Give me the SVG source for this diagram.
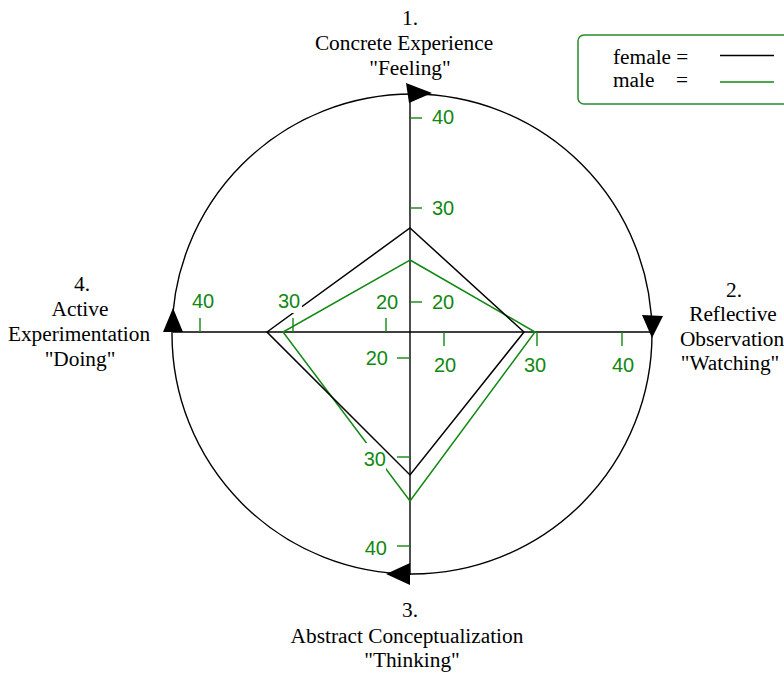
<svg xmlns="http://www.w3.org/2000/svg" width="784" height="674" viewBox="0 0 784 674">
  <style>
    .cap { font-family: "Liberation Serif", "Times New Roman", serif; font-size: 21.33px; fill: #000; text-anchor: middle; }
    .leg { font-family: "Liberation Serif", "Times New Roman", serif; font-size: 21.33px; fill: #000; }
    .num { font-family: "Liberation Sans", Arial, sans-serif; font-size: 20px; fill: #118811; }
    .axis { stroke: #000; stroke-width: 1.4; fill: none; }
    .tick { stroke: #118811; stroke-width: 1.4; fill: none; }
    .fem { stroke: #000; stroke-width: 1.5; fill: none; stroke-linejoin: miter; }
    .mal { stroke: #118811; stroke-width: 1.5; fill: none; stroke-linejoin: miter; }
    .arrow { fill: #000; stroke: none; }
    .mask { fill: #fff; stroke: none; }
  </style>

  <!-- cycle circle and its direction arrows -->
  <g id="cycle">
    <circle class="axis" cx="412" cy="334" r="240"/>
    <polygon class="arrow" points="406,83 409,103 432,93"/>
    <polygon class="arrow" points="642,315 663,316 652,338"/>
    <polygon class="arrow" points="410,563 410,585 386,574"/>
    <polygon class="arrow" points="173,308 163,332 183,332"/>
  </g>

  <!-- axes with scale ticks -->
  <g id="axes">
    <line class="axis" x1="410" y1="94" x2="410" y2="575"/>
    <line class="axis" x1="173" y1="332" x2="652" y2="332"/>
    <!-- upper axis -->
    <line class="tick" x1="410" y1="118" x2="422" y2="118"/>
    <line class="tick" x1="410" y1="208" x2="422" y2="208"/>
    <line class="tick" x1="410" y1="302" x2="422" y2="302"/>
    <!-- right axis -->
    <line class="tick" x1="444" y1="332" x2="444" y2="346"/>
    <line class="tick" x1="537" y1="332" x2="537" y2="346"/>
    <line class="tick" x1="622" y1="332" x2="622" y2="346"/>
    <!-- lower axis -->
    <line class="tick" x1="397" y1="358" x2="410" y2="358"/>
    <line class="tick" x1="397" y1="457" x2="410" y2="457"/>
    <line class="tick" x1="397" y1="546" x2="410" y2="546"/>
    <!-- left axis -->
    <line class="tick" x1="386" y1="318" x2="386" y2="332"/>
    <line class="tick" x1="293" y1="318" x2="293" y2="332"/>
    <line class="tick" x1="200" y1="318" x2="200" y2="332"/>
  </g>

  <!-- score profiles -->
  <g id="profiles">
    <polygon id="male" class="mal" points="410,260 535,332 410,501 283,332"/>
    <rect class="mask" x="361" y="443" width="25" height="27"/>
    <polygon id="female" class="fem" points="410,228 524,332 410,475 267,332"/>
    <rect class="mask" x="276" y="292" width="26" height="21"/>
  </g>

  <!-- scale numbers -->
  <g id="scale-labels">
    <text class="num" x="432" y="124">40</text>
    <text class="num" x="432" y="215">30</text>
    <text class="num" x="432" y="309">20</text>

    <text class="num" x="445" y="372" text-anchor="middle">20</text>
    <text class="num" x="535" y="372" text-anchor="middle">30</text>
    <text class="num" x="623" y="372" text-anchor="middle">40</text>

    <text class="num" x="388" y="365" text-anchor="end">20</text>
    <text class="num" x="386" y="466" text-anchor="end">30</text>
    <text class="num" x="387" y="555" text-anchor="end">40</text>

    <text class="num" x="387" y="309" text-anchor="middle">20</text>
    <text class="num" x="289" y="308" text-anchor="middle">30</text>
    <text class="num" x="203" y="308" text-anchor="middle">40</text>
  </g>

  <!-- stage captions -->
  <g id="stage-1">
    <text class="cap" x="410" y="25">1.</text>
    <text class="cap" x="404" y="50">Concrete Experience</text>
    <text class="cap" x="410" y="75">"Feeling"</text>
  </g>
  <g id="stage-2">
    <text class="cap" x="734" y="297">2.</text>
    <text class="cap" x="733" y="321">Reflective</text>
    <text class="cap" x="732" y="346">Observation</text>
    <text class="cap" x="730" y="370">"Watching"</text>
  </g>
  <g id="stage-3">
    <text class="cap" x="410" y="617">3.</text>
    <text class="cap" x="407" y="643">Abstract Conceptualization</text>
    <text class="cap" x="412" y="667">"Thinking"</text>
  </g>
  <g id="stage-4">
    <text class="cap" x="82" y="291">4.</text>
    <text class="cap" x="80" y="316">Active</text>
    <text class="cap" x="79" y="341">Experimentation</text>
    <text class="cap" x="80" y="366">"Doing"</text>
  </g>

  <!-- legend -->
  <g id="legend">
    <rect x="578" y="35" width="230" height="69" rx="6" fill="#fff" stroke="#2a8a2a" stroke-width="1.5"/>
    <text class="leg" x="613" y="64">female =</text>
    <text class="leg" x="613" y="87">male</text>
    <text class="leg" x="676" y="87">=</text>
    <line x1="720" y1="55.5" x2="774" y2="55.5" stroke="#000" stroke-width="1.4"/>
    <line x1="720" y1="82" x2="774" y2="82" stroke="#118811" stroke-width="1.4"/>
  </g>
</svg>
